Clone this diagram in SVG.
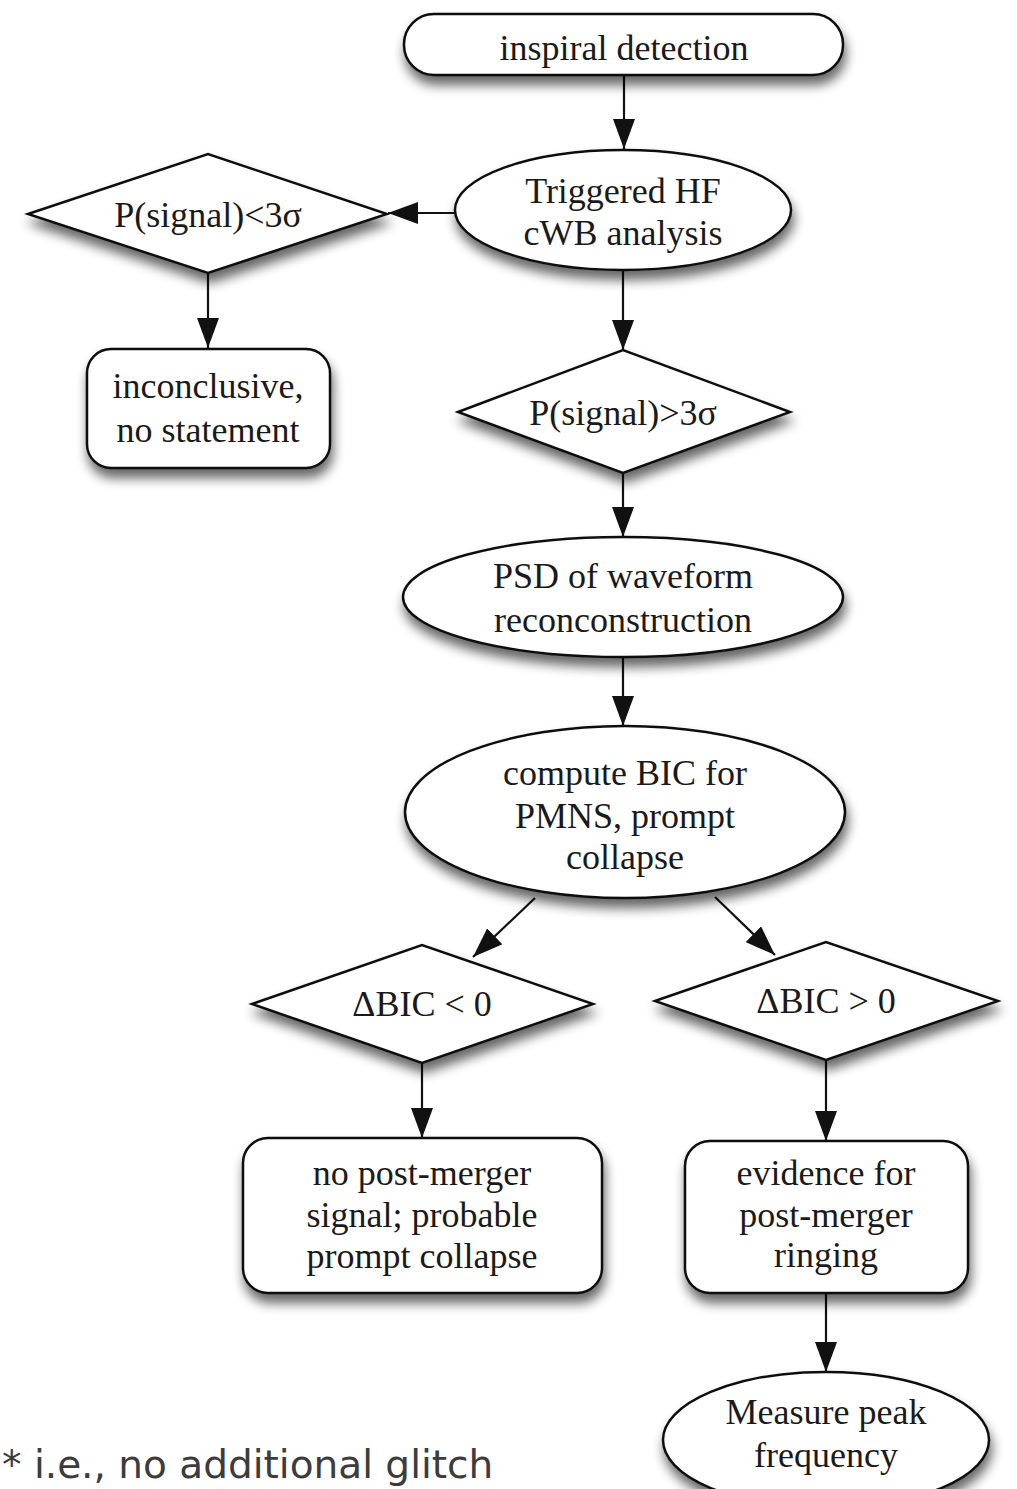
<svg xmlns="http://www.w3.org/2000/svg" width="1017" height="1489" viewBox="0 0 1017 1489">
<style>
.shape{fill:#fff;stroke:#111;stroke-width:2.5;filter:url(#shadow)}
.lbl{font-family:"Liberation Serif","Times New Roman",serif;font-size:36px;fill:#1a1a1a;text-anchor:middle}
.conn{stroke:#111;stroke-width:2.2;fill:none;marker-end:url(#arrow)}
.note{font-family:"DejaVu Sans",Verdana,sans-serif;font-size:39px;fill:#3c3c3c}
</style>
<defs>
<filter id="shadow" x="-20%" y="-20%" width="140%" height="160%">
<feGaussianBlur in="SourceAlpha" stdDeviation="6"/>
<feOffset dx="2" dy="9" result="b"/>
<feComponentTransfer><feFuncA type="linear" slope="0.6"/></feComponentTransfer>
<feMerge><feMergeNode/><feMergeNode in="SourceGraphic"/></feMerge>
</filter>
<marker id="arrow" markerUnits="userSpaceOnUse" markerWidth="30" markerHeight="22" refX="30" refY="11" orient="auto">
<path d="M0,0 L30,11 L0,22 z" fill="#111"/>
</marker>
</defs>
<rect width="1017" height="1489" fill="#fff"/>
<g id="connectors">
<line class="conn" x1="624" y1="75" x2="624" y2="149"/>
<line class="conn" x1="455" y1="213" x2="388" y2="213"/>
<line class="conn" x1="208" y1="273" x2="208" y2="348"/>
<line class="conn" x1="623" y1="270" x2="623" y2="350"/>
<line class="conn" x1="623" y1="473" x2="623" y2="537"/>
<line class="conn" x1="623" y1="657" x2="623" y2="726"/>
<line class="conn" x1="535" y1="898" x2="473" y2="957"/>
<line class="conn" x1="715" y1="897" x2="775" y2="955"/>
<line class="conn" x1="422" y1="1063" x2="422" y2="1138"/>
<line class="conn" x1="826" y1="1060" x2="826" y2="1141"/>
<line class="conn" x1="826" y1="1293" x2="826" y2="1372"/>
</g>
<g id="n-inspiral">
<rect class="shape" x="404" y="14" width="439" height="61" rx="30" ry="30"/>
<text class="lbl" x="624" y="60">inspiral detection</text>
</g>
<g id="n-triggered">
<ellipse class="shape" cx="623" cy="210" rx="168" ry="60"/>
<text class="lbl" x="623" y="203">Triggered HF</text>
<text class="lbl" x="623" y="245">cWB analysis</text>
</g>
<g id="n-plow">
<polygon class="shape" points="28,214 208,154 387,214 208,273"/>
<text class="lbl" x="208" y="227">P(signal)&lt;3σ</text>
</g>
<g id="n-inconclusive">
<rect class="shape" x="87" y="349" width="243" height="119" rx="24" ry="24"/>
<text class="lbl" x="208" y="398">inconclusive,</text>
<text class="lbl" x="208" y="442">no statement</text>
</g>
<g id="n-phigh">
<polygon class="shape" points="458,412 623,350 790,412 623,473"/>
<text class="lbl" x="623" y="425">P(signal)&gt;3σ</text>
</g>
<g id="n-psd">
<ellipse class="shape" cx="623" cy="597" rx="220" ry="60"/>
<text class="lbl" x="623" y="588">PSD of waveform</text>
<text class="lbl" x="623" y="632">reconconstruction</text>
</g>
<g id="n-bic">
<ellipse class="shape" cx="625" cy="812" rx="220" ry="86"/>
<text class="lbl" x="625" y="785">compute BIC for</text>
<text class="lbl" x="625" y="828">PMNS, prompt</text>
<text class="lbl" x="625" y="869">collapse</text>
</g>
<g id="n-bicneg">
<polygon class="shape" points="252,1004 422,945 593,1004 422,1063"/>
<text class="lbl" x="422" y="1016">ΔBIC &lt; 0</text>
</g>
<g id="n-bicpos">
<polygon class="shape" points="655,1001 826,942 998,1001 826,1060"/>
<text class="lbl" x="826" y="1013">ΔBIC &gt; 0</text>
</g>
<g id="n-nosignal">
<rect class="shape" x="243" y="1138" width="359" height="155" rx="25" ry="25"/>
<text class="lbl" x="422" y="1185">no post-merger</text>
<text class="lbl" x="422" y="1227">signal; probable</text>
<text class="lbl" x="422" y="1268">prompt collapse</text>
</g>
<g id="n-evidence">
<rect class="shape" x="685" y="1141" width="283" height="152" rx="25" ry="25"/>
<text class="lbl" x="826" y="1185">evidence for</text>
<text class="lbl" x="826" y="1227">post-merger</text>
<text class="lbl" x="826" y="1267">ringing</text>
</g>
<g id="n-measure">
<ellipse class="shape" cx="826" cy="1440" rx="163" ry="68"/>
<text class="lbl" x="826" y="1424">Measure peak</text>
<text class="lbl" x="826" y="1467">frequency</text>
</g>
<text class="note" x="2" y="1478">* i.e., no additional glitch</text>
</svg>
